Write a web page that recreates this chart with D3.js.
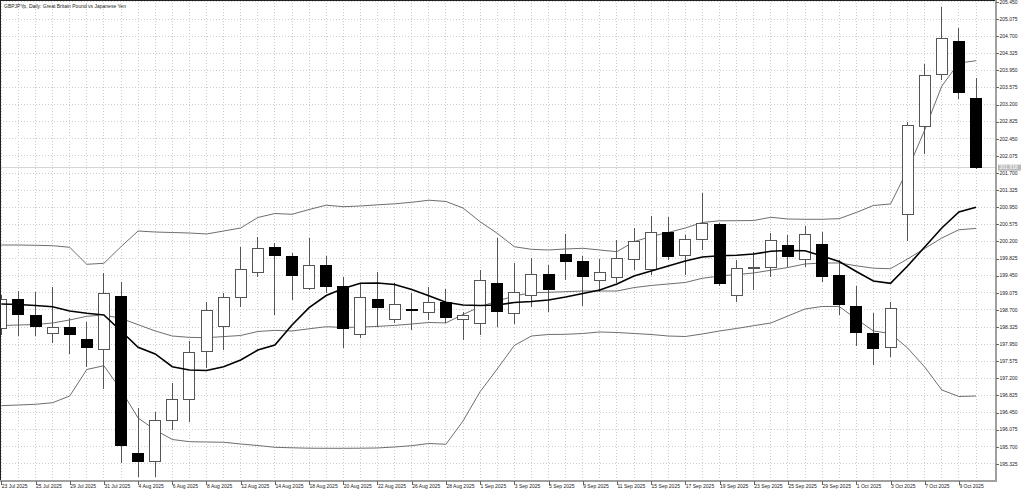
<!DOCTYPE html>
<html>
<head>
<meta charset="utf-8">
<script src="https://cdn.jsdelivr.net/npm/d3@7"></script>
<style>
  body { margin: 0; background: #fff; }
  svg { display: block; }
  text { font-family: "Liberation Sans", Arial, sans-serif; }
</style>
</head>
<body>
<script>
const dates = ["2025-07-23","2025-07-24","2025-07-25","2025-07-28","2025-07-29","2025-07-30","2025-07-31","2025-08-01",
  "2025-08-04","2025-08-05","2025-08-06","2025-08-07","2025-08-08","2025-08-11","2025-08-12","2025-08-13","2025-08-14",
  "2025-08-15","2025-08-18","2025-08-19","2025-08-20","2025-08-21","2025-08-22","2025-08-25","2025-08-26","2025-08-27",
  "2025-08-28","2025-08-29","2025-09-01","2025-09-02","2025-09-03","2025-09-04","2025-09-05","2025-09-08","2025-09-09",
  "2025-09-10","2025-09-11","2025-09-12","2025-09-15","2025-09-16","2025-09-17","2025-09-18","2025-09-19","2025-09-22",
  "2025-09-23","2025-09-24","2025-09-25","2025-09-26","2025-09-29","2025-09-30","2025-10-01","2025-10-02","2025-10-03",
  "2025-10-06","2025-10-07","2025-10-08","2025-10-09","2025-10-10"];

const open = [198.282,198.932,198.573,198.172,198.310,198.047,197.843,198.998,195.558,195.382,196.272,196.726,197.799,198.332,
  198.976,199.524,200.057,199.881,199.174,199.669,199.209,198.150,198.924,198.479,198.705,198.639,198.858,198.494,198.407,
  199.283,198.626,199.005,199.465,199.919,199.750,199.355,199.415,199.809,199.575,200.401,199.903,200.247,200.576,199.005,
  199.615,199.634,200.101,199.794,200.138,199.450,198.770,198.187,197.880,200.780,202.730,203.863,204.578,203.337];
const high = [199.027,199.114,199.086,199.209,198.516,198.428,199.515,199.312,196.544,196.469,197.092,198.025,198.880,199.077,
  200.085,200.291,200.173,199.947,200.269,199.881,199.428,199.268,199.537,199.296,199.077,199.209,199.152,198.661,199.575,
  200.269,199.721,199.831,199.684,200.364,199.881,199.816,200.232,200.488,200.758,200.730,200.342,201.269,200.611,199.794,
  199.976,200.379,200.342,200.545,200.414,199.794,199.224,198.626,198.867,202.825,204.083,205.345,204.885,203.776];
const low = [198.150,198.128,198.128,197.968,197.734,197.455,196.967,195.338,195.032,195.032,196.068,196.237,197.420,197.821,
  198.757,199.415,198.588,198.917,199.136,199.064,197.865,198.078,198.332,198.407,198.260,198.479,198.407,198.041,198.150,
  198.319,198.391,198.770,198.661,199.355,198.792,199.099,199.283,199.575,199.465,199.794,199.465,200.013,199.224,198.880,
  199.136,199.415,199.634,199.634,199.318,198.588,197.909,197.486,197.675,200.210,202.117,203.738,203.315,201.781];
const close = [198.932,198.610,198.341,198.319,198.150,197.872,199.064,195.718,195.382,196.281,196.726,197.771,198.691,198.976,
  199.575,200.050,199.903,199.443,199.684,199.209,198.282,198.968,198.748,198.829,198.690,198.858,198.538,198.582,199.334,
  198.661,199.077,199.480,199.152,199.750,199.428,199.524,199.822,200.204,200.401,199.881,200.232,200.598,199.283,199.603,
  199.635,200.217,199.866,200.357,199.428,198.808,198.209,197.859,198.735,202.752,203.833,204.652,203.460,201.818];

// thick moving average
const maLine = [198.829,198.819,198.797,198.770,198.676,198.626,198.588,198.238,197.880,197.734,197.455,197.383,197.372,197.455,
  197.602,197.821,197.931,198.369,198.748,199.016,199.169,199.283,199.290,199.257,199.147,199.011,198.867,198.808,198.797,
  198.808,198.862,198.884,198.917,198.983,199.060,199.136,199.268,199.443,199.553,199.662,199.772,199.859,199.888,199.897,
  199.925,199.984,200.002,199.997,199.881,199.761,199.542,199.334,199.283,199.662,200.079,200.495,200.846,200.949];

// bollinger bands
const bbUpper = [200.122,200.122,200.116,200.107,200.072,199.700,199.721,200.085,200.429,200.407,200.396,200.385,200.364,200.429,
  200.495,200.725,200.813,200.795,200.900,200.995,200.962,200.977,201.003,201.025,201.058,201.104,201.076,200.933,200.633,
  200.379,200.085,200.028,200.013,200.035,200.050,200.013,199.976,200.195,200.309,200.396,200.495,200.616,200.653,200.655,
  200.659,200.730,200.692,200.686,200.686,200.700,200.835,200.988,201.021,201.766,202.643,203.607,204.111,204.161];
const bbMiddle = [198.358,198.369,198.380,198.413,198.479,198.560,198.588,198.514,198.376,198.238,198.128,198.098,198.091,198.115,
  198.139,198.227,198.251,198.238,198.286,198.332,198.315,198.323,198.339,198.360,198.391,198.424,198.415,198.599,198.770,
  198.895,199.005,199.077,199.086,199.099,199.114,199.114,199.114,199.189,199.235,199.268,199.301,199.393,199.443,199.474,
  199.509,199.570,199.629,199.706,199.728,199.728,199.667,199.614,199.603,199.816,200.046,200.276,200.456,200.486];
const bbLower = [196.601,196.616,196.631,196.666,196.813,197.394,197.477,196.945,196.331,196.068,195.860,195.812,195.805,195.799,
  195.761,195.728,195.689,195.678,195.669,195.667,195.667,195.669,195.674,195.696,195.724,195.772,195.755,196.265,196.907,
  197.405,197.920,198.128,198.161,198.165,198.183,198.216,198.205,198.183,198.161,198.128,198.117,198.172,198.238,198.293,
  198.354,198.413,198.567,198.720,198.775,198.775,198.501,198.238,198.183,197.865,197.449,196.945,196.802,196.813];

const yTicks = ["195.325","195.700","196.075","196.450","196.825","197.200","197.575","197.950","198.325","198.700",
  "199.075","199.450","199.825","200.200","200.575","200.950","201.325","201.700","202.075","202.450","202.825",
  "203.200","203.575","203.950","204.325","204.700","205.075","205.450"];

const title = "GBPJPYp, Daily:  Great Britain Pound vs Japanese Yen";
const lastPrice = close[close.length - 1];

addEventListener("load", () => {
    const width = 1024, height = 492;
    const plotRight = 996, plotBottom = 481;

    const svg = d3.select("body").append("svg")
        .attr("width", width)
        .attr("height", height);

    const x = d3.scaleLinear().domain([0, dates.length - 1]).range([1.3, 976]);
    const y = d3.scaleLinear().domain([+yTicks[0], +yTicks[yTicks.length - 1]]).range([463.9, 1.9]);
    const parse = d3.timeParse("%Y-%m-%d");
    const fmt = d3.timeFormat("%-d %b %Y");

    svg.append("clipPath").attr("id", "plot")
        .append("rect").attr("x", 0).attr("y", 0).attr("width", plotRight).attr("height", plotBottom);

    // grid
    const grid = svg.append("g")
        .attr("stroke", "#cdcdcd")
        .attr("stroke-dasharray", "1,2")
        .attr("shape-rendering", "crispEdges");
    grid.selectAll(".gy").data(yTicks).join("line")
        .attr("x1", 0).attr("x2", plotRight)
        .attr("y1", d => y(+d)).attr("y2", d => y(+d));
    grid.selectAll(".gx").data(dates).join("line")
        .attr("x1", (d, i) => x(i)).attr("x2", (d, i) => x(i))
        .attr("y1", 0).attr("y2", plotBottom);

    const plot = svg.append("g").attr("clip-path", "url(#plot)");

    // bid line
    plot.append("line")
        .attr("x1", 0).attr("x2", plotRight)
        .attr("y1", y(lastPrice)).attr("y2", y(lastPrice))
        .attr("stroke", "#d6d6d6")
        .attr("shape-rendering", "crispEdges");

    // bands
    const line = d3.line().x((d, i) => x(i)).y(d => y(d));
    [bbUpper, bbMiddle, bbLower].forEach(band => {
        plot.append("path").datum(band)
            .attr("d", line)
            .attr("fill", "none")
            .attr("stroke", "#6e6e6e")
            .attr("stroke-width", 1);
    });

    // candles
    const bars = dates.map((d, i) => ({ i, o: open[i], h: high[i], l: low[i], c: close[i] }));
    const candle = plot.append("g").attr("shape-rendering", "crispEdges");
    candle.selectAll(".wick").data(bars).join("line")
        .attr("x1", d => x(d.i)).attr("x2", d => x(d.i))
        .attr("y1", d => y(d.h)).attr("y2", d => y(d.l))
        .attr("stroke", "#555");
    candle.selectAll(".body").data(bars).join("rect")
        .attr("x", d => x(d.i) - 5.5)
        .attr("width", 11)
        .attr("y", d => y(Math.max(d.o, d.c)))
        .attr("height", d => Math.max(1, Math.abs(y(d.o) - y(d.c))))
        .attr("fill", d => d.c >= d.o ? "#fff" : "#000")
        .attr("stroke", d => d.c >= d.o ? "#555" : "#000");

    // moving average
    plot.append("path").datum(maLine)
        .attr("d", line)
        .attr("fill", "none")
        .attr("stroke", "#000")
        .attr("stroke-width", 1.6);

    // frame
    svg.append("line").attr("x1", 0.5).attr("x2", 0.5).attr("y1", 0).attr("y2", plotBottom).attr("stroke", "#222");
    svg.append("line").attr("x1", 0).attr("x2", plotRight).attr("y1", 0.5).attr("y2", 0.5).attr("stroke", "#222");
    svg.append("line").attr("x1", plotRight).attr("x2", plotRight).attr("y1", 0).attr("y2", plotBottom + 1)
        .attr("stroke", "#a0a0a0").attr("stroke-width", 2);
    svg.append("line").attr("x1", 0).attr("x2", plotRight + 1).attr("y1", plotBottom).attr("y2", plotBottom)
        .attr("stroke", "#a0a0a0").attr("stroke-width", 2);

    // y axis labels
    const yAxis = svg.append("g");
    yAxis.selectAll("line").data(yTicks).join("line")
        .attr("x1", plotRight).attr("x2", plotRight + 3)
        .attr("y1", d => Math.round(y(+d)) + 0.5).attr("y2", d => Math.round(y(+d)) + 0.5)
        .attr("stroke", "#666");
    yAxis.selectAll("text").data(yTicks).join("text")
        .attr("x", plotRight + 3.5)
        .attr("y", d => y(+d) + 1.8)
        .attr("font-size", 5)
        .attr("fill", "#222")
        .text(d => d);

    // last price marker
    const py = y(lastPrice);
    svg.append("rect")
        .attr("x", plotRight + 2).attr("y", py - 3).attr("width", 23).attr("height", 6)
        .attr("fill", "#b9b9b9");
    svg.append("text")
        .attr("x", plotRight + 3.5).attr("y", py + 1.8)
        .attr("font-size", 5)
        .attr("fill", "#fff")
        .text(lastPrice.toFixed(3));

    // x axis labels, every second bar
    const xIdx = d3.range(0, dates.length, 2);
    const xAxis = svg.append("g");
    xAxis.selectAll("line").data(xIdx).join("line")
        .attr("x1", i => Math.round(x(i)) + 0.5).attr("x2", i => Math.round(x(i)) + 0.5)
        .attr("y1", plotBottom).attr("y2", plotBottom + 4)
        .attr("stroke", "#666");
    xAxis.selectAll("text").data(xIdx).join("text")
        .attr("x", i => x(i) + 0.5)
        .attr("y", 487.8)
        .attr("font-size", 5)
        .attr("fill", "#222")
        .text(i => fmt(parse(dates[i])));

    // title
    svg.append("text")
        .attr("x", 4).attr("y", 8)
        .attr("font-size", 5)
        .attr("fill", "#222")
        .text(title);
});
</script>
</body>
</html>
